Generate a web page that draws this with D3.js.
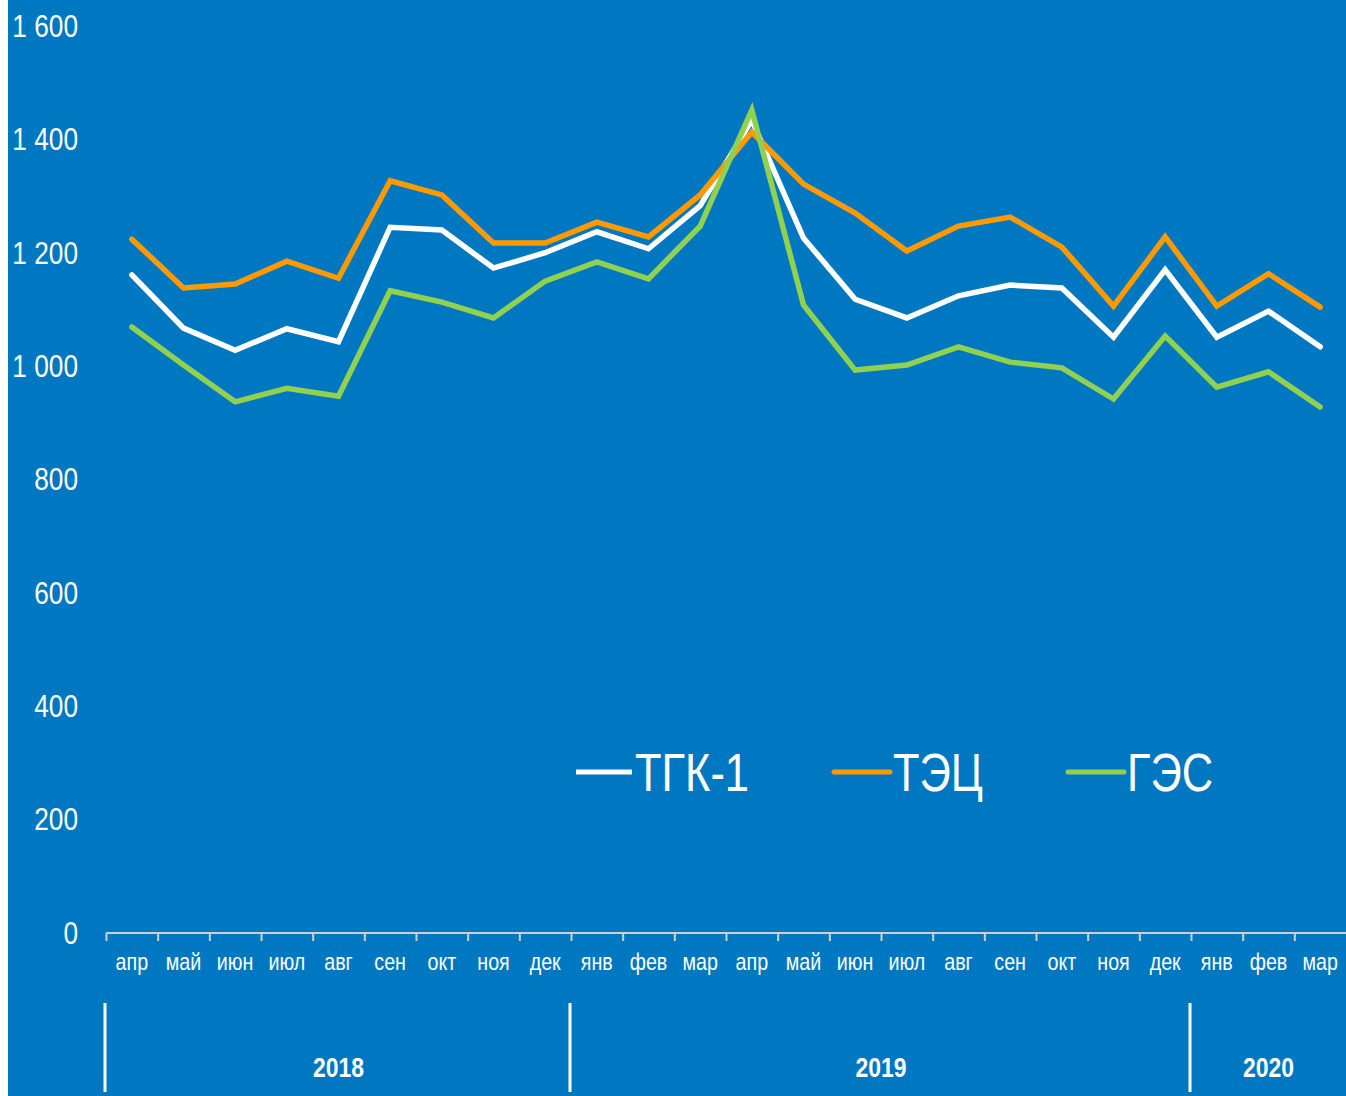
<!DOCTYPE html>
<html>
<head>
<meta charset="utf-8">
<script src="https://cdn.jsdelivr.net/npm/d3@7"></script>
<style>
  html, body { margin: 0; padding: 0; background: #ffffff; }
  svg { display: block; }
  text { font-family: "Liberation Sans Narrow", "Arial Narrow", "Liberation Sans", sans-serif; }
</style>
</head>
<body>
<script>
const months = ['апр', 'май', 'июн', 'июл', 'авг', 'сен', 'окт', 'ноя', 'дек', 'янв', 'фев', 'мар',
    'апр', 'май', 'июн', 'июл', 'авг', 'сен', 'окт', 'ноя', 'дек', 'янв', 'фев', 'мар'];

const years = [
    { label: '2018', from: 0, to: 9 },
    { label: '2019', from: 9, to: 21 },
    { label: '2020', from: 21, to: 24 }
];

const tgk1 = [1161, 1067, 1028, 1066, 1043, 1245, 1240, 1173, 1200, 1237, 1207, 1283,
    1434, 1226, 1118, 1085, 1124, 1143, 1138, 1051, 1170, 1051, 1097, 1034];
const tec = [1224, 1138, 1145, 1185, 1155, 1327, 1302, 1217, 1217, 1254, 1228, 1302,
    1413, 1321, 1270, 1203, 1247, 1263, 1210, 1106, 1228, 1106, 1163, 1104];
const ges = [1069, 1002, 937, 961, 947, 1133, 1113, 1085, 1150, 1184, 1154, 1247,
    1452, 1108, 993, 1002, 1034, 1007, 997, 942, 1053, 963, 990, 928];

const yTicks = [0, 200, 400, 600, 800, 1000, 1200, 1400, 1600];

const series = [
    { name: 'ТГК-1', values: tgk1, color: '#ffffff' },
    { name: 'ТЭЦ', values: tec, color: '#ff9900' },
    { name: 'ГЭС', values: ges, color: '#92d050' }
];

const W = 1346, H = 1096;
const bg = '#0078c1';
const narrow = 'scale(0.82,1)'; // no narrow font installed, squeeze instead

const svg = d3.select('body').append('svg')
    .attr('width', W)
    .attr('height', H);

svg.append('rect')
    .attr('x', 8).attr('y', 0)
    .attr('width', W - 8).attr('height', H)
    .attr('fill', bg);

const x = d3.scaleBand()
    .domain(d3.range(months.length))
    .range([106, 1346])
    .padding(0);

const y = d3.scaleLinear()
    .domain([0, 1600])
    .range([933, 26]);

const ruFormat = d3.formatLocale({ decimal: ',', thousands: '\u00a0', grouping: [3], currency: ['', ''] }).format(',d');

// y axis labels
const yAxisG = svg.append('g')
    .attr('transform', 'translate(78,0)')
    .call(d3.axisLeft(y).tickValues(yTicks).tickFormat(ruFormat).tickSize(0).tickPadding(0));
yAxisG.select('.domain').remove();
yAxisG.selectAll('text')
    .attr('fill', '#ffffff')
    .attr('transform', narrow)
    .style('font-size', '32px');

// x axis line + ticks
const axisColor = '#cfcfcf';
svg.append('line')
    .attr('x1', 106).attr('x2', 1346)
    .attr('y1', y(0)).attr('y2', y(0))
    .attr('stroke', axisColor)
    .attr('stroke-width', 2);

svg.append('g').selectAll('line')
    .data(d3.range(months.length))
    .join('line')
    .attr('x1', d => x(d) + 0.5).attr('x2', d => x(d) + 0.5)
    .attr('y1', y(0)).attr('y2', y(0) + 8)
    .attr('stroke', axisColor)
    .attr('stroke-width', 2);

// month labels
svg.append('g').selectAll('text')
    .data(months)
    .join('text')
    .attr('transform', (d, i) => `translate(${x(i) + x.bandwidth() / 2},970) ${narrow}`)
    .attr('text-anchor', 'middle')
    .attr('fill', '#ffffff')
    .style('font-size', '24px')
    .text(d => d);

// year separators and labels
svg.append('g').selectAll('line')
    .data(years)
    .join('line')
    .attr('x1', d => x(d.from) - 1).attr('x2', d => x(d.from) - 1)
    .attr('y1', 1003).attr('y2', 1092)
    .attr('stroke', '#ffffff')
    .attr('stroke-width', 3);

svg.append('g').selectAll('text')
    .data(years)
    .join('text')
    .attr('transform', d => {
        const cx = ((d.to < months.length ? x(d.to) : 1346) + x(d.from)) / 2;
        return `translate(${cx},1077) ${narrow}`;
    })
    .attr('text-anchor', 'middle')
    .attr('fill', '#ffffff')
    .style('font-size', '28px')
    .style('font-weight', 'bold')
    .text(d => d.label);

// lines
const line = d3.line()
    .x((d, i) => x(i) + x.bandwidth() / 2)
    .y(d => y(d));

svg.append('g').selectAll('path')
    .data(series)
    .join('path')
    .attr('d', d => line(d.values))
    .attr('fill', 'none')
    .attr('stroke', d => d.color)
    .attr('stroke-width', 5.5)
    .attr('stroke-linejoin', 'miter')
    .attr('stroke-linecap', 'round');

// legend
const legendX = [576, 834, 1068];
const legend = svg.append('g').selectAll('g')
    .data(series)
    .join('g')
    .attr('transform', (d, i) => `translate(${legendX[i]},772)`);

legend.append('line')
    .attr('x1', 0).attr('x2', 56)
    .attr('y1', 0).attr('y2', 0)
    .attr('stroke', d => d.color)
    .attr('stroke-width', 5)
    .attr('stroke-linecap', (d, i) => i === 0 ? 'butt' : 'round');

legend.append('text')
    .attr('transform', `translate(59,19) ${narrow}`)
    .attr('fill', '#ffffff')
    .style('font-size', '53px')
    .text(d => d.name);
</script>
</body>
</html>
